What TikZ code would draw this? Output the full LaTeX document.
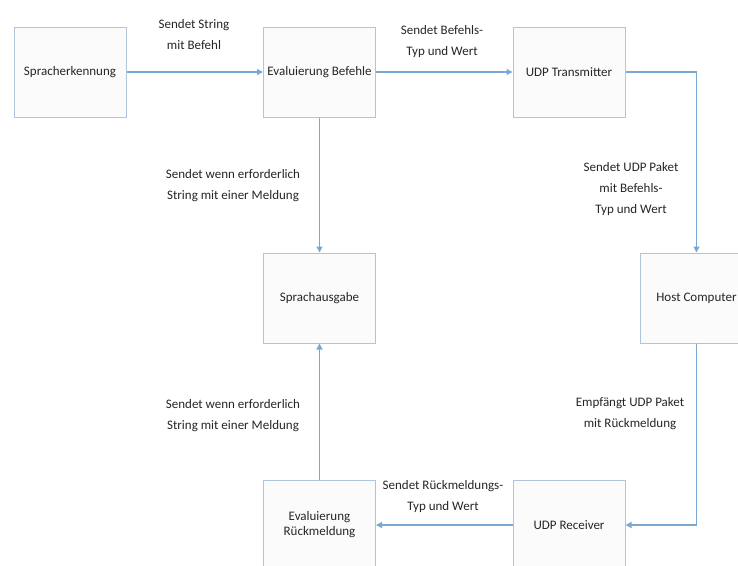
\documentclass[tikz,border=0pt]{standalone}
\usepackage{fontspec}
\setmainfont{Carlito}
\usetikzlibrary{arrows.meta}
\definecolor{boxline}{HTML}{B0C4DA}
\definecolor{boxfill}{HTML}{FBFBFB}
\definecolor{conn}{HTML}{7AA8D2}
\definecolor{txt}{HTML}{262626}
\tikzset{
  block/.style={draw=boxline, line width=1pt, fill=boxfill, minimum width=112pt, minimum height=90pt, inner sep=0pt, align=center, font=\fontsize{13}{15}\selectfont, text=txt},
  conline/.style={draw=conn, line width=1.3pt, -{Triangle[length=6pt,width=6pt]}},
  lbl/.style={align=center, font=\fontsize{13}{21}\selectfont, text=txt, inner sep=0pt}
}
\begin{document}
\begin{tikzpicture}[x=1pt,y=-1pt]
\useasboundingbox (0,0) rectangle (738,565);
\clip (0,0) rectangle (738,565);
\fill[white] (0,0) rectangle (738,565);
\node[block] (spr) at (70,72) {Spracherkennung};
\node[block] (evb) at (319.5,72) {Evaluierung Befehle};
\node[block] (udpt) at (569,72) {UDP Transmitter};
\node[block] (host) at (696.5,298) {Host Computer};
\node[block] (aus) at (319.5,298) {Sprachausgabe};
\node[block] (evr) at (319.5,525) {Evaluierung\\Rückmeldung};
\node[block] (udpr) at (569,525) {UDP Receiver};

\draw[conline] (spr.east) -- (evb.west);
\draw[conline] (evb.east) -- (udpt.west);
\draw[conline] (udpt.east) -| (host.north);
\draw[conline] (host.south) |- (udpr.east);
\draw[conline] (udpr.west) -- (evr.east);
\draw[conline] (evr.north) -- (aus.south);
\draw[conline] (evb.south) -- (aus.north);

\node[lbl] (l1) at (194,35) {Sendet String\\mit Befehl};
\node[lbl] (l2) at (442,42) {Sendet Befehls-\\Typ und Wert};
\node[lbl] (l3) at (631,189) {Sendet UDP Paket\\mit Befehls-\\Typ und Wert};
\node[lbl] (l4) at (233,186) {Sendet wenn erforderlich\\String mit einer Meldung};
\node[lbl] (l5) at (233,416) {Sendet wenn erforderlich\\String mit einer Meldung};
\node[lbl] (l6) at (630,414) {Empfängt UDP Paket\\mit Rückmeldung};
\node[lbl] (l7) at (443,497) {Sendet Rückmeldungs-\\Typ und Wert};
\end{tikzpicture}
\end{document}
